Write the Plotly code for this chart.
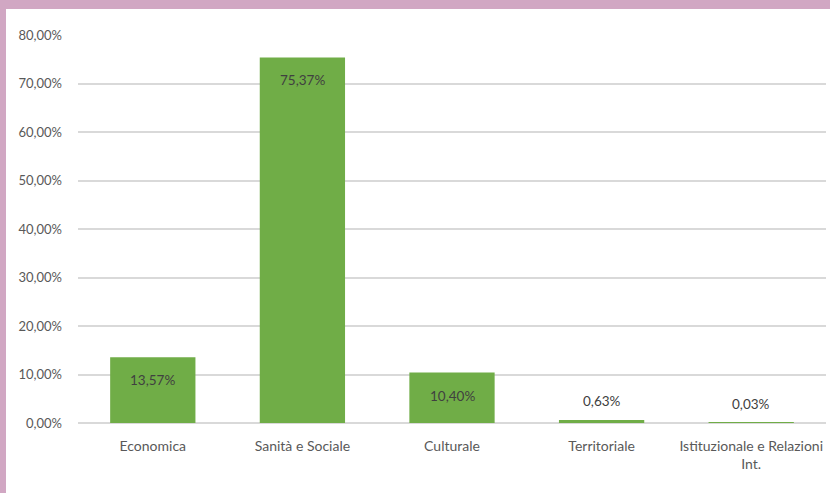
import plotly.graph_objects as go

categories = ["Economica", "Sanità e Sociale", "Culturale", "Territoriale",
              "Istituzionale e Relazioni<br>Int."]
shares = [13.57, 75.37, 10.40, 0.63, 0.03]
tick_values = [0, 10, 20, 30, 40, 50, 60, 70, 80]

FONT = "Lato, Open Sans, sans-serif"
GREEN = "#70AD47"
PINK = "#D1A7C3"
W, H = 830, 493
ML, MR, MT, MB = 78, 4, 35, 70
PW, PH = W - ML - MR, H - MT - MB


def px_x(x):
    return (x - ML) / PW


def px_y(y):
    return 1 - (y - MT) / PH


def pct(v):
    return f"{v:.2f}".replace(".", ",") + "%"


fig = go.Figure(go.Bar(
    x=categories,
    y=shares,
    marker=dict(color=GREEN, line=dict(width=0)),
    width=0.57,
    hovertemplate="%{x}: %{y:.2f}%<extra></extra>",
))

# value labels: inside near the top for tall bars, above the bar otherwise
for cat, v in zip(categories, shares):
    inside = v > 5
    fig.add_annotation(
        x=cat, y=v, xref="x", yref="y",
        text=pct(v), showarrow=False,
        yanchor="top" if inside else "bottom",
        yshift=-13 if inside else 9,
        font=dict(family=FONT, size=13.5, color="#404040"),
    )

# frame: pink strips along the left and top edges
fig.add_shape(type="rect", xref="paper", yref="paper", layer="below",
              x0=px_x(0), x1=px_x(6), y0=px_y(H), y1=px_y(0),
              fillcolor=PINK, line_width=0)
fig.add_shape(type="rect", xref="paper", yref="paper", layer="below",
              x0=px_x(0), x1=px_x(W), y0=px_y(9), y1=px_y(0),
              fillcolor=PINK, line_width=0)

fig.update_layout(
    width=W, height=H,
    margin=dict(l=ML, r=MR, t=MT, b=MB),
    paper_bgcolor="white",
    plot_bgcolor="white",
    showlegend=False,
    font=dict(family=FONT, size=14, color="#595959"),
    xaxis=dict(
        showgrid=False,
        showline=False,
        ticks="",
        ticklabelstandoff=13,
        tickfont=dict(family=FONT, size=14, color="#595959"),
    ),
    yaxis=dict(
        range=[0, 80],
        tickmode="array",
        tickvals=tick_values,
        ticktext=[pct(t) for t in tick_values],
        showgrid=True,
        gridcolor="#D9D9D9",
        gridwidth=1.5,
        zeroline=True,
        zerolinecolor="#D9D9D9",
        zerolinewidth=1.5,
        ticks="",
        ticklabelstandoff=15,
        tickfont=dict(family=FONT, size=13, color="#595959"),
    ),
)

fig.write_html("out.html")
